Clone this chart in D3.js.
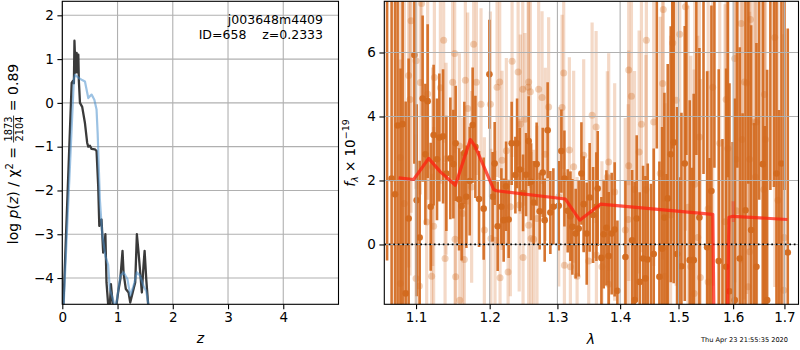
<!DOCTYPE html>
<html>
<head>
<meta charset="utf-8">
<title>j003648m4409 redshift fit</title>
<script src="https://d3js.org/d3.v7.min.js"></script>
<style>
body { margin: 0; padding: 0; background: #fff; }
svg { display: block; font-family: "DejaVu Sans", sans-serif; }
.grid line { stroke: #b0b0b0; stroke-width: 1.1; }
.axis text { font-size: 13.5px; fill: #000; font-family: "DejaVu Sans", sans-serif; }
.axis line { stroke: #000; stroke-width: 1.1; }
</style>
</head>
<body>
<svg id="fig" width="800" height="350"></svg>
<script>
// ---- left panel: log p(z)
var zTicks = [0, 1, 2, 3, 4];
var logpTicks = [-4, -3, -2, -1, 0, 1, 2];

var pzZ = [0.00, 0.17, 0.19, 0.21, 0.22, 0.24, 0.26, 0.27, 0.29, 0.30, 0.32, 0.36, 0.41, 0.45, 0.47, 0.50, 0.53, 0.59, 0.62, 0.65, 0.67, 0.69, 0.71, 0.74, 0.76, 0.78, 0.80, 0.83, 0.85, 0.88, 0.91, 0.94, 1.01, 1.05, 1.09, 1.11, 1.15, 1.20, 1.23, 1.29, 1.32, 1.35, 1.38, 1.41, 1.44, 1.47, 1.49, 1.52, 1.56, 1.58];
var pzLog = [-5.3, 0.46, 0.50, 0.45, 1.42, 0.69, 1.14, 0.70, 1.10, 0.50, 0.00, -0.09, -0.46, -0.91, -1.00, -0.98, -1.05, -1.06, -1.10, -1.90, -2.81, -2.70, -2.66, -3.42, -3.30, -3.00, -4.10, -4.60, -4.90, -4.14, -4.55, -5.00, -4.33, -4.03, -3.38, -3.90, -4.25, -4.33, -4.56, -4.25, -4.10, -3.00, -3.41, -3.87, -4.33, -3.72, -3.38, -4.03, -4.70, -5.0];

var priorZ = [0.00, 0.21, 0.23, 0.27, 0.32, 0.36, 0.41, 0.44, 0.47, 0.50, 0.53, 0.56, 0.58, 0.62, 0.64, 0.68, 0.72, 0.78, 0.83, 0.86, 0.92, 0.96, 1.00, 1.05, 1.11, 1.18, 1.23, 1.29, 1.35, 1.41, 1.47, 1.52, 1.57];
var priorLog = [-5.3, 0.55, 0.64, 0.60, 0.55, 0.52, 0.49, 0.30, 0.11, 0.15, 0.19, 0.12, 0.07, -0.15, -0.69, -2.20, -2.96, -3.50, -3.70, -4.25, -4.50, -4.70, -4.40, -3.95, -3.87, -4.03, -4.40, -4.18, -3.87, -3.95, -4.18, -4.30, -4.70];

// ---- right panel: spectrum
var lamTicks = [1.1, 1.2, 1.3, 1.4, 1.5, 1.6, 1.7];
var fluxTicks = [0, 2, 4, 6];

var darkLam = [1.0687, 1.0730, 1.0763, 1.0827, 1.0866, 1.0904, 1.0978, 1.1008, 1.1047, 1.1086, 1.1122, 1.1152, 1.1192, 1.1231, 1.1276, 1.1307, 1.1357, 1.1401, 1.1455, 1.1496, 1.1527, 1.1574, 1.1609, 1.1646, 1.1674, 1.1720, 1.1761, 1.1799, 1.1850, 1.1915, 1.1996, 1.2042,
  1.2071, 1.2114, 1.2167, 1.2200, 1.2235, 1.2272, 1.2316, 1.2370, 1.2395, 1.2433, 1.2483, 1.2527, 1.2566, 1.2602, 1.2640, 1.2685, 1.2730, 1.2776, 1.2806, 1.2851, 1.2892, 1.2938, 1.3020, 1.3061, 1.3108, 1.3159, 1.3201, 1.3232, 1.3284, 1.3331, 1.3374, 1.3410, 1.3458, 1.3505, 1.3560, 1.3613,
  1.3634, 1.3694, 1.3731, 1.3775, 1.3812, 1.3861, 1.3910, 1.3955,
  1.4088, 1.4200, 1.4243, 1.4277, 1.4328, 1.4385, 1.4425, 1.4464, 1.4567, 1.4665, 1.4712, 1.4752, 1.4810, 1.4863, 1.4915, 1.4975, 1.5052, 1.5111, 1.5200, 1.5272, 1.5375,
  1.5516, 1.5595, 1.5730, 1.5868, 1.5931, 1.6031, 1.6126, 1.6235, 1.6344, 1.6447, 1.6570, 1.6656, 1.6841, 1.6940, 1.7067,
  1.0630, 1.0800, 1.4520, 1.4620, 1.4790, 1.4890, 1.5010, 1.5140, 1.5240, 1.5320, 1.5450, 1.5560, 1.5650, 1.5800, 1.5900, 1.5990, 1.6080, 1.6180, 1.6290, 1.6400, 1.6500, 1.6610, 1.6720, 1.6790, 1.6890, 1.7000];
var darkFlux = [2.06, 1.57, 3.72, 3.76, -1.53, 0.81, 5.92, 1.38, 0.22, 4.56, 2.82, 4.48, 1.18, 3.42, 2.66, 3.34, 3.38, 2.22, 2.69, 2.51, 3.16, 1.41, 1.20, 2.86, 1.49, 1.98, 3.73, 3.05, 1.42, 1.12, 5.32, 1.49,
  2.53, 0.57, 1.18, 0.76, 1.82, 0.78, 3.16, 2.17, 3.16, 2.34, 1.61, 2.18, 3.23, 1.96, 1.31, 2.51, 1.04, 2.25, 0.76, 3.57, 1.00, 1.18, 1.21, 2.92, 2.06, 1.05, 0.88, 0.55, 0.34, 0.50, 2.22, 1.26, 0.34, 1.47, 0.92, 1.18,
  1.75, -0.42, 0.32, 0.52, -0.36, 0.34, 0.47, -1.45,
  -0.39, 0.13, -1.74, 0.81, -1.17, -0.44, -1.06, -0.47, -0.30, -1.01, -0.13, 0.84, 1.44, 2.82, 3.19, -0.30, -0.68, 2.53, -0.49, -0.49, 0.84,
  -0.09, 1.67, -0.52, -0.70, -1.46, -1.74, -0.44, 1.07, 0.45, -0.70, 2.51, -1.74, 2.22, 2.53, -0.25,
  8.5, -2.5, -2.6, 8.2, -2.4, 8.5, -2.9, 8.8, -3.1, 9.0, 8.7, -3.3, 9.2, -3.0, 8.6, -3.5, 9.4, -2.8, 9.1, -3.2, 8.9, -3.6, 9.5, 9.8, -3.4, 9.6];
var darkErr = [7.5, 7.0, 6.5, 6.0, 6.0, 5.0, 3.4, 3.0, 2.4, 2.6, 2.2, 2.4, 2.0, 2.2, 1.9, 2.0, 2.1, 1.8, 1.9, 1.7, 1.8, 1.6, 1.7, 1.6, 1.6, 1.7, 1.8, 1.6, 1.5, 1.6, 1.7, 1.4,
  1.3, 1.4, 1.2, 1.3, 1.4, 1.2, 1.3, 1.2, 1.4, 1.3, 1.2, 1.3, 1.4, 1.2, 1.3, 1.3, 1.2, 1.4, 1.3, 1.5, 1.3, 1.2, 1.4, 1.3, 1.5, 1.3, 1.4, 1.5, 1.4, 1.5, 1.6, 1.5, 1.6, 1.7, 1.5, 1.7,
  1.8, 1.9, 1.7, 1.8, 2.0, 1.9, 2.1, 2.2,
  2.4, 2.2, 3.7, 2.6, 2.8, 2.9, 3.2, 3.0, 3.3, 3.6, 3.8, 3.9, 4.2, 4.0, 4.4, 4.6, 4.8, 4.3, 5.0, 5.2, 5.3,
  5.5, 5.8, 6.0, 6.2, 6.5, 6.3, 6.6, 6.8, 6.4, 7.0, 6.9, 7.2, 7.5, 7.8, 7.0,
  9.0, 8.0, 4.5, 5.2, 4.6, 5.5, 5.0, 6.0, 5.5, 6.2, 6.5, 6.0, 6.8, 6.3, 6.5, 6.7, 7.0, 6.9, 7.2, 7.0, 7.5, 7.3, 7.8, 8.0, 7.6, 7.9];

var lightLam = [1.0798, 1.0935, 1.1000, 1.0904, 1.0922, 1.1073, 1.1056, 1.1241, 1.1365, 1.1486, 1.1514, 1.1660, 1.1775, 1.1813, 1.2010, 1.1878, 1.1321, 1.1152, 1.1397, 1.1578, 1.0798, 1.1000, 1.1043, 1.1139, 1.1231, 1.1384, 1.1519, 1.1646, 1.1527, 1.1583, 1.1205, 1.0849, 1.1623, 1.1747, 1.1925, 1.1218, 1.1692, 1.2018,
  1.2322, 1.2410, 1.2105, 1.2143, 1.2478, 1.2558, 1.2591, 1.2566, 1.2715, 1.2766, 1.2866, 1.3072, 1.3097, 1.3544, 1.3608, 1.2443, 1.2510, 1.2239, 1.2177, 1.2816, 1.3185, 1.3410, 1.2076, 1.2148, 1.2264, 1.2483, 1.2602, 1.2640, 1.3108, 1.3201, 1.3306, 1.3490, 1.3613, 1.2297, 1.2426, 1.2566, 1.2690, 1.3020, 1.3252,
  1.4143, 1.4188, 1.4441, 1.4722, 1.4732, 1.4898, 1.4958, 1.5022, 1.5123, 1.4567, 1.4357, 1.4318, 1.3812, 1.3790, 1.5290, 1.4680, 1.4143, 1.4240, 1.4434, 1.3910, 1.4134, 1.4085, 1.4860, 1.5171, 1.3702, 1.3812, 1.4763, 1.5280, 1.5220,
  1.6152, 1.6331, 1.6807, 1.5868, 1.5619, 1.6031, 1.6215, 1.6259, 1.6604, 1.6394, 1.6449, 1.5375, 1.5749, 1.5900, 1.6169, 1.6624, 1.6053, 1.6315, 1.6427, 1.6590, 1.6870, 1.5535, 1.5848, 1.6063, 1.5345, 1.6994, 1.6315, 1.5535, 1.5392, 1.6287, 1.6985];
var lightFlux = [2.72, 6.99, 5.74, 5.28, 4.53, 7.53, 5.06, 5.22, 6.38, 5.07, 5.97, 5.13, 6.26, 5.07, 4.38, 4.38, 4.90, 4.70, 2.68, 3.08, -1.22, -1.06, -1.30, 0.70, 0.57, -0.44, 0.16, -0.47, -1.01, -1.74, -0.99, 1.28, 0.97, 1.80, 0.45, 2.43, 4.25, 0.19,
  5.73, 5.39, 4.91, 5.08, 4.85, 4.91, 4.77, 5.08, 4.85, 4.59, 4.30, 4.28, 5.36, 4.04, 3.67, 3.76, 3.91, 2.93, 2.63, 2.82, 2.95, 2.79, 0.13, -1.04, -0.86, -0.41, 0.19, 0.16, -0.65, -0.70, -0.99, -0.52, -0.33, 1.18, 1.23, 0.60, 0.81, 1.49, 2.43,
  5.45, 4.63, 6.38, 5.03, 7.34, 6.30, 4.51, 6.57, 7.43, 3.83, 3.76, 2.89, 2.58, 2.11, 1.88, 2.22, 2.46, 1.72, 1.72, 1.64, 0.78, 0.45, 0.92, 1.16, -0.70, -1.24, -0.99, -1.53, -0.70,
  6.91, 7.03, 6.47, 4.53, 4.91, 5.81, 5.08, 5.05, 4.69, 3.83, 3.83, 3.36, 3.16, 3.00, 3.28, 3.28, 2.66, 2.66, 2.11, 1.72, 1.38, 1.12, 0.71, 1.05, 0.22, 0.22, -0.23, -1.17, -1.03, -1.32, -1.43];
var lightErr = [7.0, 6.0, 4.0, 6.0, 5.5, 3.5, 3.5, 3.2, 3.2, 3.0, 3.1, 3.0, 3.1, 2.9, 2.9, 3.0, 3.0, 3.3, 3.0, 2.9, 7.0, 4.5, 3.6, 3.3, 3.1, 3.0, 3.0, 2.9, 3.0, 2.9, 3.2, 6.5, 3.0, 3.0, 2.9, 3.1, 3.0, 2.8,
  3.0, 2.9, 2.8, 3.0, 2.9, 2.8, 3.0, 2.9, 2.8, 2.7, 2.8, 2.9, 3.0, 2.9, 3.0, 2.8, 2.7, 2.9, 2.8, 2.7, 2.9, 3.0, 2.8, 2.7, 2.9, 2.8, 2.7, 2.8, 2.9, 3.0, 3.1, 3.2, 3.2, 2.8, 2.7, 2.8, 2.9, 2.8, 3.0,
  3.6, 3.5, 4.8, 5.5, 6.0, 6.2, 5.8, 6.5, 7.0, 4.5, 4.0, 3.8, 3.4, 3.3, 5.9, 4.9, 3.6, 3.7, 4.2, 3.4, 3.6, 3.5, 5.6, 6.3, 3.3, 3.4, 5.4, 7.0, 6.6,
  7.5, 7.2, 7.8, 6.5, 6.2, 7.0, 6.8, 6.6, 7.4, 6.9, 7.1, 6.0, 6.4, 6.7, 7.0, 7.5, 7.2, 7.3, 7.6, 7.8, 8.0, 6.5, 6.8, 7.1, 6.3, 8.2, 7.5, 6.6, 6.2, 7.4, 8.0];

var modelLam = [1.0776, 1.0969, 1.1165, 1.1321, 1.1523, 1.1729, 1.1799, 1.2057, 1.2097, 1.3123, 1.3347, 1.3678, 1.5620, 1.5660, 1.5870, 1.5920, 1.6000, 1.7060];
var modelFlux = [2.08, 2.03, 2.69, 2.27, 1.85, 3.28, 3.05, 1.72, 1.68, 1.42, 0.76, 1.26, 0.94, -5.0, -5.0, 0.85, 0.88, 0.78];
var edgeLam = [1.6000, 1.6005];
var edgeFlux = [1.35, 0.70];

var svg = d3.select("#fig");
var orange = "#d2691e";

function addAxes(g, x, y, xt, yt, xfmt, yfmt, box) {
  // grid
  var grid = g.append("g").attr("class", "grid");
  grid.selectAll(".gx").data(xt).join("line")
    .attr("x1", d => x(d)).attr("x2", d => x(d))
    .attr("y1", box.top).attr("y2", box.bottom);
  grid.selectAll(".gy").data(yt).join("line")
    .attr("y1", d => y(d)).attr("y2", d => y(d))
    .attr("x1", box.left).attr("x2", box.right);
  return grid;
}

function drawFrame(x, y, xt, yt, xfmt, yfmt, box) {
  var ax = svg.append("g").attr("class", "axis")
    .attr("transform", "translate(0," + box.bottom + ")")
    .call(d3.axisBottom(x).tickValues(xt).tickFormat(xfmt).tickSize(4.9).tickPadding(3.6));
  var ay = svg.append("g").attr("class", "axis")
    .attr("transform", "translate(" + box.left + ",0)")
    .call(d3.axisLeft(y).tickValues(yt).tickFormat(yfmt).tickSize(4.9).tickPadding(3.6));
  [ax, ay].forEach(function(a) {
    a.attr("font-size", null).attr("font-family", null);
    a.select(".domain").remove();
  });
  svg.append("rect")
    .attr("x", box.left).attr("y", box.top)
    .attr("width", box.right - box.left).attr("height", box.bottom - box.top)
    .attr("fill", "none").attr("stroke", "#000").attr("stroke-width", 1.1);
}

// ---------- left panel
var boxL = {left: 62.3, right: 338.5, top: 1.3, bottom: 304.3};
var zX = d3.scaleLinear().domain([0, 5.0]).range([boxL.left, boxL.right]);
var logpY = d3.scaleLinear().domain([-4.6, 2.32]).range([boxL.bottom, boxL.top]);

var defs = svg.append("defs");
defs.append("clipPath").attr("id", "clipL").append("rect")
  .attr("x", boxL.left).attr("y", boxL.top)
  .attr("width", boxL.right - boxL.left).attr("height", boxL.bottom - boxL.top);

var gL = svg.append("g");
addAxes(gL, zX, logpY, zTicks, logpTicks, null, null, boxL);

var lineL = d3.line().x(d => zX(d[0])).y(d => logpY(d[1]));
gL.append("path")
  .datum(d3.zip(pzZ, pzLog))
  .attr("clip-path", "url(#clipL)")
  .attr("d", lineL)
  .attr("fill", "none").attr("stroke", "#3a3a3a").attr("stroke-width", 2.3)
  .attr("stroke-linejoin", "round");
gL.append("path")
  .datum(d3.zip(priorZ, priorLog))
  .attr("clip-path", "url(#clipL)")
  .attr("d", lineL)
  .attr("fill", "none").attr("stroke", "#4a90cc").attr("stroke-opacity", 0.55).attr("stroke-width", 2.2)
  .attr("stroke-linejoin", "round");

drawFrame(zX, logpY, zTicks, logpTicks, d3.format("d"), d3.format("d"), boxL);

svg.append("text").attr("x", 323).attr("y", 24).attr("text-anchor", "end")
  .attr("font-size", 12.5).text("j003648m4409");
svg.append("text").attr("x", 323).attr("y", 39).attr("text-anchor", "end")
  .attr("font-size", 12.5).style("white-space", "pre").text("ID=658    z=0.2333");

svg.append("text").attr("x", (boxL.left + boxL.right) / 2).attr("y", 343)
  .attr("text-anchor", "middle").attr("font-size", 14).attr("font-style", "italic").text("z");

// rotated y label with a stacked fraction
var yl = svg.append("g").attr("transform", "translate(0,154) rotate(-90)");
var t1 = yl.append("text").attr("y", 18).attr("font-size", 14);
t1.append("tspan").text("log ");
t1.append("tspan").attr("font-style", "italic").text("p");
t1.append("tspan").text("(");
t1.append("tspan").attr("font-style", "italic").text("z");
t1.append("tspan").text(") / χ");
t1.append("tspan").attr("font-size", 10).attr("dy", -5).text("2");
t1.append("tspan").attr("dy", 5).style("white-space", "pre").text(" = ");
var num = yl.append("text").attr("y", 11.5).attr("font-size", 9.8).attr("text-anchor", "middle").text("1873");
var den = yl.append("text").attr("y", 22.5).attr("font-size", 9.8).attr("text-anchor", "middle").text("2104");
var t3 = yl.append("text").attr("y", 18).attr("font-size", 14).style("white-space", "pre").text(" = 0.89");
var w1 = t1.node().getComputedTextLength();
var wf = Math.max(num.node().getComputedTextLength(), den.node().getComputedTextLength()) + 2;
var w3 = t3.node().getComputedTextLength();
var x0 = -(w1 + wf + w3) / 2;
t1.attr("x", x0);
num.attr("x", x0 + w1 + wf / 2);
den.attr("x", x0 + w1 + wf / 2);
yl.append("line").attr("x1", x0 + w1).attr("x2", x0 + w1 + wf)
  .attr("y1", 13.6).attr("y2", 13.6).attr("stroke", "#000").attr("stroke-width", 0.8);
t3.attr("x", x0 + w1 + wf);

// ---------- right panel
var boxR = {left: 384.3, right: 798.5, top: 1.3, bottom: 304.3};
var lamX = d3.scaleLog().domain([1.0595, 1.7285]).range([boxR.left, boxR.right]);
var fluxY = d3.scaleLinear().domain([-1.87, 7.6]).range([boxR.bottom, boxR.top]);

defs.append("clipPath").attr("id", "clipR").append("rect")
  .attr("x", boxR.left).attr("y", boxR.top)
  .attr("width", boxR.right - boxR.left).attr("height", boxR.bottom - boxR.top);

var gR = svg.append("g").attr("clip-path", "url(#clipR)");

function drawSeries(lam, flux, err, barW, barOp, r, dotOp) {
  var pts = d3.range(lam.length).map(i => ({l: lam[i], f: flux[i], e: err[i]}));
  var g = gR.append("g");
  g.selectAll("line").data(pts).join("line")
    .attr("x1", d => lamX(d.l)).attr("x2", d => lamX(d.l))
    .attr("y1", d => fluxY(d.f - d.e)).attr("y2", d => fluxY(d.f + d.e))
    .attr("stroke", orange).attr("stroke-opacity", barOp).attr("stroke-width", barW);
  g.selectAll("circle").data(pts).join("circle")
    .attr("cx", d => lamX(d.l)).attr("cy", d => fluxY(d.f)).attr("r", r)
    .attr("fill", orange).attr("fill-opacity", dotOp);
}
drawSeries(lightLam, lightFlux, lightErr, 3.2, 0.25, 3.5, 0.3);
drawSeries(darkLam, darkFlux, darkErr, 2.6, 0.92, 3.3, 0.95);

addAxes(gR, lamX, fluxY, lamTicks, fluxTicks, null, null, boxR);

gR.append("line")
  .attr("x1", boxR.left).attr("x2", boxR.right)
  .attr("y1", fluxY(0)).attr("y2", fluxY(0))
  .attr("stroke", "#000").attr("stroke-width", 1.7).attr("stroke-dasharray", "1.7,2.8");

var lineR = d3.line().x(d => lamX(d[0])).y(d => fluxY(d[1]));
gR.append("path").datum(d3.zip(modelLam, modelFlux))
  .attr("d", lineR).attr("fill", "none")
  .attr("stroke", "#ff1f0f").attr("stroke-opacity", 0.75).attr("stroke-width", 3.2)
  .attr("stroke-linejoin", "round");
gR.append("path").datum(d3.zip(edgeLam, edgeFlux))
  .attr("d", lineR).attr("fill", "none")
  .attr("stroke", "#ff1f0f").attr("stroke-opacity", 0.35).attr("stroke-width", 3.2);

drawFrame(lamX, fluxY, lamTicks, fluxTicks, d3.format(".1f"), d3.format("d"), boxR);

svg.append("text").attr("x", 591).attr("y", 344)
  .attr("text-anchor", "middle").attr("font-size", 14).attr("font-style", "italic").text("λ");

var yr = svg.append("text").attr("transform", "translate(355,153) rotate(-90)")
  .attr("text-anchor", "middle").attr("font-size", 13.5);
yr.append("tspan").attr("font-style", "italic").text("f");
yr.append("tspan").attr("font-style", "italic").attr("font-size", 9.5).attr("dy", 3).text("λ");
yr.append("tspan").attr("dy", -3).style("white-space", "pre").text(" × 10");
yr.append("tspan").attr("font-size", 9.5).attr("dy", -6).text("−19");

svg.append("text").attr("x", 788).attr("y", 342).attr("text-anchor", "end")
  .attr("font-size", 6.6).text("Thu Apr 23 21:55:35 2020");
</script>
</body>
</html>
